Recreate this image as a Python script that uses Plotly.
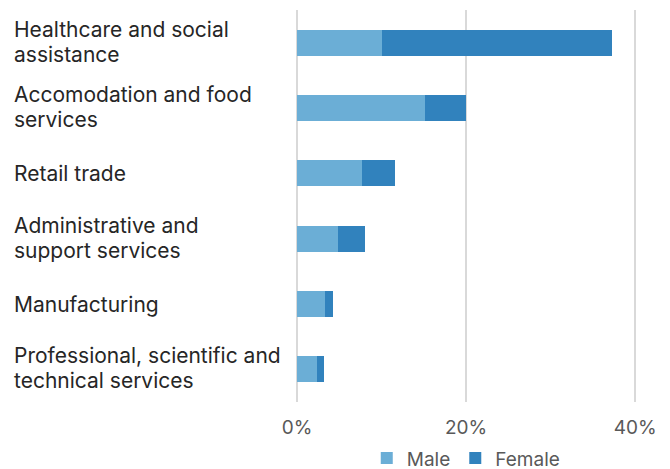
import plotly.graph_objects as go

categories = [
    "Healthcare and social<br>assistance",
    "Accomodation and food<br>services",
    "Retail trade",
    "Administrative and<br>support services",
    "Manufacturing",
    "Professional, scientific and<br>technical services",
]
male = [10.0, 15.1, 7.7, 4.9, 3.3, 2.4]
female = [27.2, 4.9, 3.9, 3.1, 0.9, 0.8]
tick_vals = [0, 20, 40]
tick_text = ["0%", "20%", "40%"]

FONT = "Inter"
fig = go.Figure()
fig.add_trace(go.Bar(y=categories, x=male, name="Male", orientation="h",
                     marker=dict(color="#6baed6", line=dict(width=0))))
fig.add_trace(go.Bar(y=categories, x=female, name="Female", orientation="h",
                     marker=dict(color="#3182bd", line=dict(width=0))))

W, H = 670, 469
L, R, T, B = 297, 1, 10, 67
pw = W - L - R
LINE = 25
for c in categories:
    lines = c.split("<br>")
    n = len(lines)
    for i, ln in enumerate(lines):
        shift = ((n - 1) / 2 - i) * LINE + (1 if n > 1 else 0)
        fig.add_annotation(x=(12 - L) / pw, xref="paper", y=c, yref="y",
                           text=ln, showarrow=False, xanchor="left", align="left",
                           yshift=shift,
                           font=dict(family=FONT, size=21, color="#262626"))

fig.update_layout(
    width=W, height=H, barmode="stack", bargap=0.6,
    margin=dict(l=L, r=R, t=T, b=B, autoexpand=False),
    plot_bgcolor="white", paper_bgcolor="white",
    font=dict(family=FONT, size=19, color="#595959"),
    xaxis=dict(range=[0, 44], tickvals=tick_vals, ticktext=tick_text,
               showgrid=True, gridcolor="#d9d9d9", gridwidth=2,
               zeroline=True, zerolinecolor="#d9d9d9", zerolinewidth=2,
               showline=False, ticks="",
               ticklabelstandoff=12,
               tickfont=dict(family=FONT, size=19, color="#595959")),
    yaxis=dict(autorange="reversed", showticklabels=False, showgrid=False,
               zeroline=False, showline=False),
    legend=dict(orientation="h", x=0.455, xanchor="center", y=-0.095, yanchor="top",
                font=dict(family=FONT, size=19, color="#595959"),
                traceorder="normal"),
)
fig.write_html("out.html")
